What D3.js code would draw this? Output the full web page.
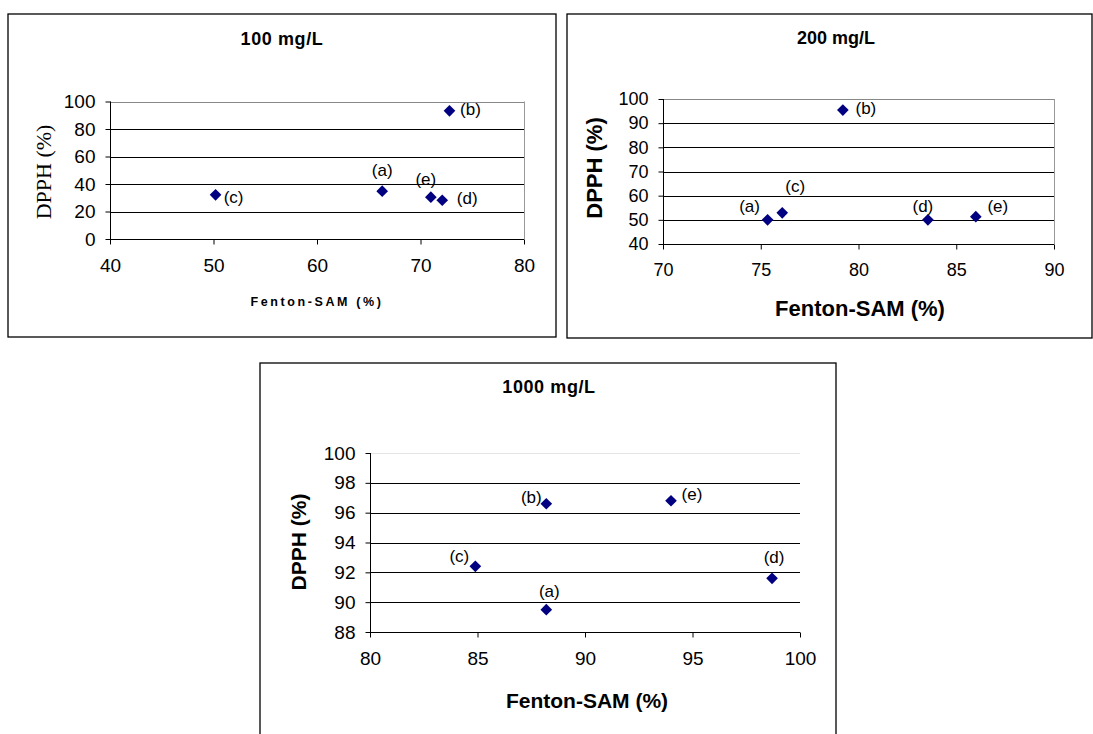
<!DOCTYPE html>
<html lang="en">
  <head>
    <meta charset="utf-8">
    <title>DPPH vs Fenton-SAM</title>
    <script src="https://d3js.org/d3.v7.min.js"></script>
    <style>
      body { margin: 0; background: #fff; }
      text { font-family: Arial, "Liberation Sans", sans-serif; fill: #000; }
      .grid { stroke: #000; stroke-width: 1px; }
      .mark { fill: #000080; }
    </style>
  </head>
  <body>
    <svg id="chart" width="1093" height="734"></svg>
    <script>
      // point labels, same order in every panel
      const labels = ['(a)', '(b)', '(c)', '(d)', '(e)'];

      // 100 mg/L
      const sam100 = [66.3, 72.8, 50.2, 72.1, 71.0];
      const dpph100 = [34.8, 93.2, 32.1, 28.2, 30.4];
      const xTicks100 = [40, 50, 60, 70, 80];
      const yTicks100 = [0, 20, 40, 60, 80, 100];

      // 200 mg/L
      const sam200 = [75.35, 79.2, 76.1, 83.55, 86.0];
      const dpph200 = [50.0, 95.4, 52.9, 50.0, 51.3];
      const xTicks200 = [70, 75, 80, 85, 90];
      const yTicks200 = [40, 50, 60, 70, 80, 90, 100];

      // 1000 mg/L
      const sam1000 = [88.2, 88.2, 84.9, 98.7, 94.0];
      const dpph1000 = [89.5, 96.6, 92.4, 91.6, 96.8];
      const xTicks1000 = [80, 85, 90, 95, 100];
      const yTicks1000 = [88, 90, 92, 94, 96, 98, 100];

      const svg = d3.select('#chart');

      function drawPanel(p) {
        let g = svg.append('g');
        let x = d3.scaleLinear()
          .domain(d3.extent(p.xTicks))
          .range(p.xRange);
        let y = d3.scaleLinear()
          .domain(d3.extent(p.yTicks))
          .range(p.yRange);

        g.append('rect')
          .attr('x', p.box[0]).attr('y', p.box[1])
          .attr('width', p.box[2] - p.box[0])
          .attr('height', p.box[3] - p.box[1])
          .attr('fill', 'none')
          .attr('stroke', '#000')
          .attr('stroke-width', 1.3);

        // horizontal gridlines (top one is grey)
        let top = d3.max(p.yTicks);
        g.selectAll('line.grid')
          .data(p.yTicks.filter(function(d){return d != d3.min(p.yTicks)}))
          .join('line')
          .attr('class', 'grid')
          .attr('x1', p.xRange[0]).attr('x2', p.xRange[1])
          .attr('y1', function(d){return Math.round(y(d)) + 0.5})
          .attr('y2', function(d){return Math.round(y(d)) + 0.5})
          .style('stroke', function(d){return d == top ? p.topColor : '#000'});

        if (p.rightBorder) {
          g.append('line')
            .attr('x1', p.xRange[1] + 0.5).attr('x2', p.xRange[1] + 0.5)
            .attr('y1', y(top)).attr('y2', p.yRange[0])
            .attr('stroke', '#999');
        }

        let xAxis = d3.axisBottom(x).tickValues(p.xTicks).tickSize(5).tickPadding(14);
        let yAxis = d3.axisLeft(y).tickValues(p.yTicks).tickSize(5).tickPadding(10);

        let gx = g.append('g')
          .attr('transform', 'translate(0,' + (Math.round(p.yRange[0]) + 0.5) + ')')
          .call(xAxis);
        let gy = g.append('g')
          .attr('transform', 'translate(' + (Math.round(p.xRange[0]) + 0.5) + ',0)')
          .call(yAxis);
        [gx, gy].forEach(function(a) {
          a.selectAll('path, line').attr('stroke', '#000');
          a.selectAll('text')
            .style('font-family', 'Arial, "Liberation Sans", sans-serif')
            .style('font-size', p.tickFont + 'px')
            .attr('fill', '#000');
        });
        gx.select('.domain').attr('d', 'M' + p.xRange[0] + ',0H' + p.xRange[1]);
        gy.select('.domain').attr('d', 'M0,' + p.yRange[0] + 'V' + p.yRange[1]);

        // title and axis titles
        g.append('text')
          .attr('x', p.title[0]).attr('y', p.title[1])
          .attr('text-anchor', 'middle')
          .attr('dominant-baseline', 'central')
          .style('font-weight', 'bold')
          .style('font-size', p.titleFont + 'px')
          .style('letter-spacing', p.titleSpacing + 'px')
          .text(p.name);

        g.append('text')
          .attr('x', p.xTitle[0]).attr('y', p.xTitle[1])
          .attr('text-anchor', 'middle')
          .attr('dominant-baseline', 'central')
          .style('font-weight', 'bold')
          .style('font-size', p.xTitleFont + 'px')
          .style('letter-spacing', p.xTitleSpacing + 'px')
          .text('Fenton-SAM (%)');

        g.append('text')
          .attr('transform', 'translate(' + p.yTitle[0] + ',' + p.yTitle[1] + ') rotate(-90)')
          .attr('text-anchor', 'middle')
          .attr('dominant-baseline', 'central')
          .style('font-family', p.yTitleFamily)
          .style('font-weight', p.yTitleWeight)
          .style('font-size', p.yTitleFont + 'px')
          .text('DPPH (%)');

        let pts = p.sam.map(function(v, i) {
          return {x: v, y: p.dpph[i], label: labels[i], off: p.offsets[i]};
        });

        g.selectAll('path.mark')
          .data(pts)
          .join('path')
          .attr('class', 'mark')
          .attr('d', d3.symbol(d3.symbolSquare, 68))
          .attr('transform', function(d){return 'translate(' + x(d.x) + ',' + y(d.y) + ') rotate(45)'});

        g.selectAll('text.lab')
          .data(pts)
          .join('text')
          .attr('class', 'lab')
          .attr('x', function(d){return x(d.x) + d.off[0]})
          .attr('y', function(d){return y(d.y) + d.off[1]})
          .attr('text-anchor', 'middle')
          .attr('dominant-baseline', 'central')
          .style('font-size', '17px')
          .text(function(d){return d.label});
      }

      drawPanel({
        name: '100 mg/L', sam: sam100, dpph: dpph100,
        xTicks: xTicks100, yTicks: yTicks100,
        box: [8, 14, 556, 337], xRange: [110, 524], yRange: [239, 101.5],
        title: [282, 39], titleFont: 18, titleSpacing: 0.6,
        xTitle: [317, 302], xTitleFont: 12.5, xTitleSpacing: 2.6,
        yTitle: [43, 172], yTitleFont: 22, yTitleFamily: '"Liberation Serif", "Times New Roman", serif', yTitleWeight: 'normal',
        tickFont: 19, topColor: '#888', rightBorder: true,
        offsets: [[0, -21], [21, -1], [18, 3], [25, -2], [-5, -18]]
      });

      drawPanel({
        name: '200 mg/L', sam: sam200, dpph: dpph200,
        xTicks: xTicks200, yTicks: yTicks200,
        box: [567, 14, 1092, 338], xRange: [663, 1054], yRange: [244, 99],
        title: [836, 38], titleFont: 18, titleSpacing: 0,
        xTitle: [860, 308], xTitleFont: 22, xTitleSpacing: 0,
        yTitle: [594, 168], yTitleFont: 22, yTitleFamily: 'Arial, "Liberation Sans", sans-serif', yTitleWeight: 'bold',
        tickFont: 18, topColor: '#888', rightBorder: true,
        offsets: [[-18, -13], [23, -2], [13, -26], [-5, -13], [22, -10]]
      });

      drawPanel({
        name: '1000 mg/L', sam: sam1000, dpph: dpph1000,
        xTicks: xTicks1000, yTicks: yTicks1000,
        box: [260, 363, 836, 745], xRange: [370, 800], yRange: [632, 453],
        title: [549, 387], titleFont: 18, titleSpacing: 0.6,
        xTitle: [587, 700], xTitleFont: 21, xTitleSpacing: 0,
        yTitle: [298, 542], yTitleFont: 21, yTitleFamily: 'Arial, "Liberation Sans", sans-serif', yTitleWeight: 'bold',
        tickFont: 19, topColor: '#e4e4e4', rightBorder: false,
        offsets: [[3, -18], [-15, -6], [-16, -10], [2, -21], [21, -6]]
      });
    </script>
  </body>
</html>
